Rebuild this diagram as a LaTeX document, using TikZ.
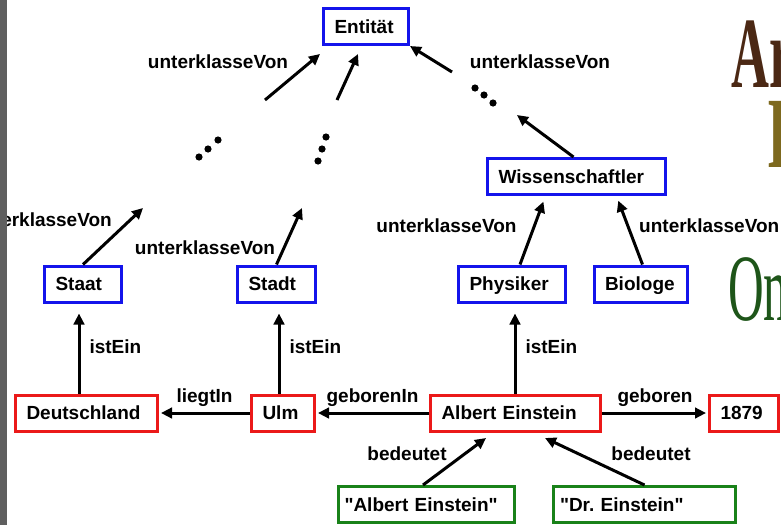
\documentclass[tikz,border=0pt]{standalone}
\usepackage{fontspec}
\setmainfont{Liberation Sans}
\newfontfamily\titlefont{Liberation Serif}
\usepackage{xcolor}
\usepackage{tikz}
\usetikzlibrary{arrows.meta, positioning}
\definecolor{klasseblue}{RGB}{20,20,235}
\definecolor{instred}{RGB}{235,25,25}
\definecolor{litgreen}{RGB}{25,130,25}
\definecolor{titlebrown}{RGB}{75,40,20}
\definecolor{titleolive}{RGB}{125,105,30}
\definecolor{titlegreen}{RGB}{30,85,25}
\definecolor{framegray}{RGB}{95,95,95}

\begin{document}
\begin{tikzpicture}[
  x=1pt, y=-1pt,
  box/.style={draw, line width=3pt, fill=white, align=left, inner xsep=11pt,
              minimum height=36pt, text height=17.6pt, text depth=4pt,
              font=\fontsize{19}{22}\selectfont\bfseries},
  klasse/.style={box, draw=klasseblue},
  inst/.style={box, draw=instred},
  lit/.style={box, draw=litgreen, inner xsep=6.5pt},
  lbl/.style={font=\fontsize{19}{22}\selectfont\bfseries, inner sep=2pt,
              text height=14pt, text depth=4pt},
  arr/.style={-{Triangle[length=11pt, width=10.5pt]}, line width=3pt, black},
  big/.style={anchor=base west, inner sep=0pt, xscale=0.52}
]
\clip (0,0) rectangle (781,525);

% title letters at the right edge
\node[big, text=titlebrown, font=\titlefont\bfseries\fontsize{101}{101}\selectfont] (tAr) at (731,87) {Ar};
\node[big, text=titleolive, font=\titlefont\bfseries\fontsize{101}{101}\selectfont] (tI) at (767,167) {I};
\node[big, text=titlegreen, font=\titlefont\fontsize{95}{95}\selectfont] (tOn) at (728,320) {On};

% classes
\node[klasse, text width=63pt] (ent) at (366,26.5) {Entität};
\node[klasse, text width=156pt] (wiss) at (576.5,176.5) {Wissenschaftler};
\node[klasse, text width=55pt] (staat) at (83,284) {Staat};
\node[klasse, text width=56pt] (stadt) at (276.5,284) {Stadt};
\node[klasse, text width=85pt] (phys) at (512,284) {Physiker};
\node[klasse, text width=71pt] (bio) at (640.5,284) {Biologe};

% instances
\node[inst, text width=120pt] (de) at (86.5,413) {Deutschland};
\node[inst, text width=41pt] (ulm) at (283,413) {Ulm};
\node[inst, text width=148pt] (ae) at (515.5,413) {Albert Einstein};
\node[inst, text width=47pt] (y1879) at (744,413) {1879};

% literals
\node[lit, text width=163pt] (lit1) at (426,504.5) {\textquotedbl Albert Einstein\textquotedbl};
\node[lit, text width=169pt] (lit2) at (644.5,504.5) {\textquotedbl Dr.\ Einstein\textquotedbl};

% open ends of the hierarchy
\coordinate (s1) at (143,208);
\coordinate (t1) at (302,208);
\coordinate (e1) at (265,100);
\coordinate (e2) at (337,100);
\coordinate (e3) at (452,72);
\coordinate (w1) at (517,115);
\foreach \p in {(199,157),(208,149),(218,140),
                (318,161),(322,149),(326,137),
                (475,88),(484,95),(493,103)}
  \fill \p circle (3.6pt);

% unterklasseVon
\draw[arr] (e1) -- ([xshift=-2pt, yshift=-8pt]ent.south west);
\draw[arr] (e2) -- ([xshift=-8pt, yshift=-8pt]ent.south);
\draw[arr] (e3) -- (ent.south east);
\draw[arr] ([xshift=-3pt]wiss.north) -- (w1);
\draw[arr] (staat.north) -- (s1);
\draw[arr] (stadt.north) -- (t1);
\draw[arr, shorten >=6pt] ([xshift=8pt]phys.north) -- ([xshift=-31pt]wiss.south);
\draw[arr, shorten >=5pt] ([xshift=2pt]bio.north) -- ([xshift=40pt]wiss.south);
\node[lbl] (uk1) at (218,63.8) {unterklasseVon};
\node[lbl] (uk2) at (540,63.8) {unterklasseVon};
\node[lbl, anchor=east] (uk3) at (114,221.8) {unterklasseVon};
\node[lbl] (uk4) at (205,249.8) {unterklasseVon};
\node[lbl] (uk5) at (446.5,227.8) {unterklasseVon};
\node[lbl, anchor=west] (uk6) at (637,227.8) {unterklasseVon};

% istEin
\draw[arr, shorten >=10pt] ([xshift=-7.5pt]de.north) -- node[lbl, right=7pt] (ie1) {istEin} ([xshift=-4pt]staat.south);
\draw[arr, shorten >=10pt] ([xshift=-4pt]ulm.north) -- node[lbl, right=7pt] (ie2) {istEin} ([xshift=2.5pt]stadt.south);
\draw[arr, shorten >=10pt] ([xshift=-0.5pt]ae.north) -- node[lbl, right=7pt] (ie3) {istEin} ([xshift=3pt]phys.south);

% relations between instances
\draw[arr, shorten >=2pt] (ulm.west) -- node[lbl, above=3pt] (li) {liegtIn} (de.east);
\draw[arr, shorten >=2pt] (ae.west) -- node[lbl, above=3pt] (gi) {geborenIn} (ulm.east);
\draw[arr, shorten >=2pt] (ae.east) -- node[lbl, above=3pt] (gb) {geboren} (y1879.west);

% bedeutet
\draw[arr] ([xshift=-3pt]lit1.north) -- ([xshift=-29.5pt, yshift=-5.5pt]ae.south);
\draw[arr] (lit2.north) -- ([xshift=29.5pt, yshift=-5.5pt]ae.south);
\node[lbl] (bd1) at (407,455) {bedeutet};
\node[lbl] (bd2) at (651,455) {bedeutet};

% window frame on the left
\fill[framegray] (0,0) rectangle (7,525);
\end{tikzpicture}
\end{document}
